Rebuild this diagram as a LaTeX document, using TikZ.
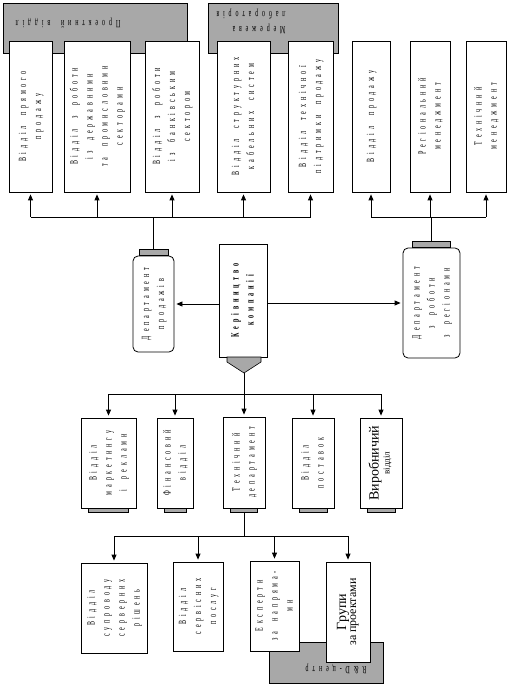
\documentclass[tikz,border=0pt]{standalone}
\usepackage{graphicx}
\usepackage{fontspec}
\setmainfont{Liberation Serif}
\newfontfamily\orgfont[FakeStretch=0.55,LetterSpace=35,WordSpace=2]{Liberation Serif}
\usetikzlibrary{arrows.meta}
\definecolor{BandGray}{RGB}{168,168,168}
\newcommand{\vtext}[1]{\rotatebox{90}{\begin{tabular}{@{}c@{}}#1\end{tabular}}}
\newcommand{\utext}[1]{\rotatebox{180}{\begin{tabular}{@{}l@{}}#1\end{tabular}}}
\renewcommand{\arraystretch}{1.2}

\begin{document}
\begin{tikzpicture}[x=1pt, y=-1pt,
    unit/.style={draw, line width=0.8pt, fill=white, inner sep=0pt,
      font=\orgfont\fontsize{11}{12.5}\selectfont},
    dept/.style={unit, rounded corners=5pt},
    band/.style={draw, line width=0.8pt, fill=BandGray, inner sep=0pt},
    capbox/.style={draw, line width=0.6pt, fill=BandGray, inner sep=0pt},
    tag/.style={inner sep=0pt, font=\orgfont\fontsize{11}{12.5}\selectfont},
    link/.style={line width=0.8pt},
    arr/.style={link, -{Triangle[length=6pt,width=5pt]}, shorten >=2pt}]

    % Frame
    \useasboundingbox (0,0) rectangle (510,684);

    % Group bands
    \node[band, minimum width=184, minimum height=50] (proekt) at (95,28) {};
    \node[band, minimum width=130, minimum height=50] (merezh) at (273,28) {};
    \node[band, minimum width=114, minimum height=41] (rnd) at (326,662.5) {};
    \node[tag] (proektText) at (68,24) {\utext{Проектний відділ}};
    \node[tag] (merezhText) at (251,22) {\utext{Мережева\\лабораторія}};
    \node[tag] (rndText) at (336,669) {\utext{R\&D-центр}};

    % Top row
    \node[unit, minimum width=43, minimum height=151] (pryamyi) at (30.5,116.5)
        {\vtext{Відділ прямого\\продажу}};
    \node[unit, minimum width=66, minimum height=151] (derzh) at (97,116.5)
        {\vtext{Відділ з роботи\\із державними\\та промисловими\\секторами}};
    \node[unit, minimum width=54, minimum height=151] (bank) at (172,116.5)
        {\vtext{Відділ з роботи\\із банківським\\сектором}};
    \node[unit, minimum width=53, minimum height=151] (kabel) at (243.5,116.5)
        {\vtext{Відділ структурних\\кабельних систем}};
    \node[unit, minimum width=45, minimum height=151] (pidtr) at (310.5,116.5)
        {\vtext{Відділ технічної\\підтримки продажу}};
    \node[unit, minimum width=38, minimum height=151] (prodazh) at (371,116.5)
        {\vtext{Відділ продажу}};
    \node[unit, minimum width=40, minimum height=151] (region) at (430,116.5)
        {\vtext{Регіональний\\менеджмент}};
    \node[unit, minimum width=40, minimum height=151] (tekhmen) at (486,116.5)
        {\vtext{Технічний\\менеджмент}};

    % Departments
    \node[dept, minimum width=41, minimum height=96] (deptProd) at (153.5,304)
        {\vtext{Департамент\\продажів}};
    \node[capbox, minimum width=29, minimum height=6, anchor=south] (prodCap) at (deptProd.north) {};
    \node[unit, minimum width=48, minimum height=113] (ker) at (243,300.5)
        {\vtext{\bfseries Керівництво\\\bfseries компанії}};
    \coordinate (kerTip) at (244,373);
    \draw[capbox] (227,357) -- (227,362) -- (kerTip) -- (261,362) -- (261,357) -- cycle;
    \node[dept, minimum width=57, minimum height=110] (deptReg) at (431.5,303)
        {\vtext{Департамент\\з роботи\\з регіонами}};
    \node[capbox, minimum width=38, minimum height=6, anchor=south] (regCap) at (deptReg.north) {};

    % Second row
    \node[unit, minimum width=55, minimum height=90] (mark) at (108.5,463)
        {\vtext{Відділ\\маркетингу\\і реклами}};
    \node[unit, minimum width=36, minimum height=90] (fin) at (175,463)
        {\vtext{Фінансовий\\відділ}};
    \node[unit, minimum width=42, minimum height=91] (tech) at (244,462.5)
        {\vtext{Технічний\\департамент}};
    \node[unit, minimum width=42, minimum height=90] (post) at (313,463)
        {\vtext{Відділ\\поставок}};
    \node[unit, minimum width=42, minimum height=90] (vyrob) at (381,463)
        {\vtext{{\rmfamily\fontsize{14}{14}\selectfont Виробничий}\\[-4pt]
          {\rmfamily\fontsize{9}{9}\selectfont відділ}}};
    \foreach \n/\w in {mark/40, fin/22, tech/27, post/28, vyrob/28}
        \node[capbox, minimum width=\w, minimum height=4, anchor=north] (\n Cap) at (\n.south) {};

    % Third row
    \node[unit, minimum width=66, minimum height=90] (supr) at (114,608)
        {\vtext{Відділ\\супроводу\\серверних\\рішень}};
    \node[unit, minimum width=50, minimum height=89] (serv) at (198,606.5)
        {\vtext{Відділ\\сервісних\\послуг}};
    \node[unit, minimum width=49, minimum height=90] (eksp) at (274.5,606)
        {\vtext{Експерти\\за напряма-\\ми}};
    \node[unit, minimum width=44, minimum height=100] (grupy) at (348,612)
        {\vtext{{\rmfamily\fontsize{14}{14}\selectfont Групи}\\[-5pt]
          {\rmfamily\fontsize{12}{12}\selectfont за проектами}}};

    % Connectors, top
    \coordinate (topBus) at (0,217);
    \draw[link] (prodCap.north) -- (prodCap.north |- topBus);
    \draw[link] (pryamyi.south |- topBus) -- (pidtr.south |- topBus);
    \foreach \n in {pryamyi, derzh, bank, kabel, pidtr}
        \draw[arr] (\n.south |- topBus) -- (\n.south);
    \draw[link] (regCap.north) -- (regCap.north |- topBus);
    \draw[link] (prodazh.south |- topBus) -- (tekhmen.south |- topBus);
    \foreach \n in {prodazh, region, tekhmen}
        \draw[arr] (\n.south |- topBus) -- (\n.south);

    % Connectors, middle
    \draw[arr] (ker.west |- deptProd.east) -- (deptProd.east);
    \draw[arr] (ker.east |- deptReg.west) -- (deptReg.west);
    \coordinate (midBus) at (0,394);
    \draw[link] (kerTip) -- (kerTip |- midBus);
    \draw[link] (mark.north |- midBus) -- (vyrob.north |- midBus);
    \foreach \n in {mark, fin, tech, post, vyrob}
        \draw[arr] (\n.north |- midBus) -- (\n.north);

    % Connectors, bottom
    \coordinate (lowBus) at (0,536);
    \draw[link] (techCap.south) -- (techCap.south |- lowBus);
    \draw[link] (supr.north |- lowBus) -- (grupy.north |- lowBus);
    \foreach \n in {supr, serv, eksp, grupy}
        \draw[arr] (\n.north |- lowBus) -- (\n.north);
\end{tikzpicture}
\end{document}
